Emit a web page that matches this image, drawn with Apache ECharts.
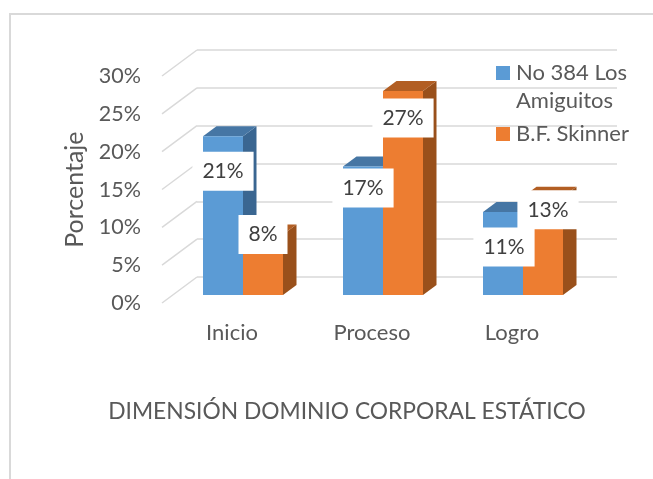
<!DOCTYPE html>
<html>
<head>
<meta charset="utf-8">
<title>Dimensión dominio corporal estático</title>
<script src="https://cdn.jsdelivr.net/npm/echarts@6/dist/echarts.min.js"></script>
<style>
  html, body { margin: 0; padding: 0; background: #fff; }
  #main { width: 653px; height: 479px; }
</style>
</head>
<body>
<div id="main"></div>
<script>
const categories = ['Inicio', 'Proceso', 'Logro']
const escuela = [21, 17, 11]
const skinner = [8, 27, 13]
const yTicks = [0, 5, 10, 15, 20, 25, 30]

// the value labels were dragged by hand in the original, [dx, dy] from the bar top
const labelShift = [
  [[0, 35], [0, 21.5], [1, 35]],
  [[0, 0], [0, 27], [5, 13]]
]

const FONT = 'Lato'
const BAR_W = 40
const colors = [
  { front: '#5B9BD5', top: '#4676A4', side: '#3A6691' },
  { front: '#ED7D31', top: '#B25E23', side: '#99501B' }
]

function renderBar (s) {
  return function (params, api) {
    const p = api.coord([api.value(0), api.value(1)])
    const base = api.coord([api.value(0), 0])
    // bars stand a little behind the front plane
    const x = p[0] + 11 + (s === 0 ? -BAR_W : 0)
    const y = p[1] - 8
    const b = base[1] - 8
    const dx = 13.5
    const dy = 10
    const c = colors[s]
    return {
      type: 'group',
      children: [
        { type: 'polygon', shape: { points: [[x + BAR_W, y], [x + BAR_W + dx, y - dy], [x + BAR_W + dx, b - dy], [x + BAR_W, b]] }, style: { fill: c.side } },
        { type: 'polygon', shape: { points: [[x, y], [x + dx, y - dy], [x + BAR_W + dx, y - dy], [x + BAR_W, y]] }, style: { fill: c.top } },
        { type: 'rect', shape: { x: x, y: y, width: BAR_W, height: b - y }, style: { fill: c.front } }
      ]
    }
  }
}

function renderLabel (params, api) {
  const i = api.value(0)
  const s = api.value(2)
  const p = api.coord([i, api.value(1)])
  const shift = labelShift[s][i]
  return {
    type: 'text',
    x: p[0] + 11 + (s === 0 ? -BAR_W / 2 : BAR_W / 2) + shift[0],
    y: p[1] - 8 + shift[1],
    style: {
      text: api.value(1) + '%',
      fill: '#404040',
      font: '21px ' + FONT,
      align: 'center',
      verticalAlign: 'middle',
      backgroundColor: '#fff',
      padding: [9, 10, 9, 10]
    }
  }
}

function renderSlant (params, api) {
  const p = api.coord([0, api.value(0)])
  const left = params.coordSys.x
  return {
    type: 'line',
    shape: { x1: left, y1: p[1], x2: left - 35, y2: p[1] + 26 },
    style: { stroke: '#D9D9D9', lineWidth: 1.5 }
  }
}

const labelData = []
;[escuela, skinner].forEach((arr, s) => arr.forEach((v, i) => labelData.push([i, v, s])))

const myChart = echarts.init(document.getElementById('main'), null, { renderer: 'canvas' })
myChart.setOption({
  animation: false,
  textStyle: { fontFamily: FONT },
  color: [colors[0].front, colors[1].front],
  title: {
    text: 'DIMENSIÓN DOMINIO CORPORAL ESTÁTICO',
    left: 347,
    top: 400,
    padding: 0,
    textAlign: 'center',
    textStyle: { fontFamily: FONT, fontSize: 22.8, fontWeight: 'normal', color: '#595959' }
  },
  legend: {
    orient: 'vertical',
    left: 496,
    top: 62,
    padding: 0,
    itemWidth: 14,
    itemHeight: 14,
    itemGap: 39,
    icon: 'rect',
    data: ['No 384 Los Amiguitos', 'B.F. Skinner'],
    formatter: function (name) {
      return name === 'No 384 Los Amiguitos' ? 'No 384 Los' : name
    },
    textStyle: { fontFamily: FONT, fontSize: 22, color: '#595959', lineHeight: 22, padding: [0, 0, 0, 1] }
  },
  graphic: [
    // chart frame, cut off by the crop on the right and bottom
    { type: 'polyline', z: 0, shape: { points: [[10, 479], [10, 14], [653, 14]] }, style: { stroke: '#D9D9D9', lineWidth: 2, fill: 'none' } },
    // second line of the wrapped legend entry
    { type: 'text', z: 10, left: 516, top: 90, style: { text: 'Amiguitos', font: '22px ' + FONT, fill: '#595959' } }
  ],
  grid: [
    { left: 197, right: 36, top: 50, bottom: 202 }, // back wall
    { left: 162, right: 71, top: 76.3, bottom: 176 } // front plane
  ],
  xAxis: [
    { type: 'category', gridIndex: 0, data: categories, show: false },
    {
      type: 'category',
      gridIndex: 1,
      data: categories,
      axisLine: { show: false },
      axisTick: { show: false },
      axisLabel: { margin: 19, fontFamily: FONT, fontSize: 22, color: '#595959' }
    }
  ],
  yAxis: [
    {
      type: 'value',
      gridIndex: 0,
      min: 0,
      max: 30,
      interval: 5,
      axisLine: { show: false },
      axisTick: { show: false },
      axisLabel: { show: false },
      splitLine: { lineStyle: { color: '#D9D9D9', width: 1.5 } }
    },
    {
      type: 'value',
      gridIndex: 1,
      min: 0,
      max: 30,
      interval: 5,
      name: 'Porcentaje',
      nameLocation: 'middle',
      nameGap: 74,
      nameTextStyle: { fontFamily: FONT, fontSize: 25, color: '#595959' },
      axisLine: { show: false },
      axisTick: { show: false },
      axisLabel: { formatter: '{value}%', margin: 21, padding: [3, 0, 0, 0], fontFamily: FONT, fontSize: 21.5, color: '#595959' },
      splitLine: { show: false }
    }
  ],
  series: [
    {
      type: 'custom',
      name: 'grid slants',
      xAxisIndex: 0,
      yAxisIndex: 0,
      renderItem: renderSlant,
      data: yTicks,
      encode: { y: 0 },
      silent: true,
      z: 1
    },
    {
      type: 'custom',
      name: 'No 384 Los Amiguitos',
      xAxisIndex: 1,
      yAxisIndex: 1,
      renderItem: renderBar(0),
      data: escuela.map((v, i) => [i, v]),
      encode: { x: 0, y: 1 },
      itemStyle: { color: colors[0].front },
      z: 2
    },
    {
      type: 'custom',
      name: 'B.F. Skinner',
      xAxisIndex: 1,
      yAxisIndex: 1,
      renderItem: renderBar(1),
      data: skinner.map((v, i) => [i, v]),
      encode: { x: 0, y: 1 },
      itemStyle: { color: colors[1].front },
      z: 3
    },
    {
      type: 'custom',
      name: 'value labels',
      xAxisIndex: 1,
      yAxisIndex: 1,
      renderItem: renderLabel,
      data: labelData,
      encode: { x: 0, y: 1 },
      silent: true,
      z: 4
    }
  ]
})
</script>
</body>
</html>
